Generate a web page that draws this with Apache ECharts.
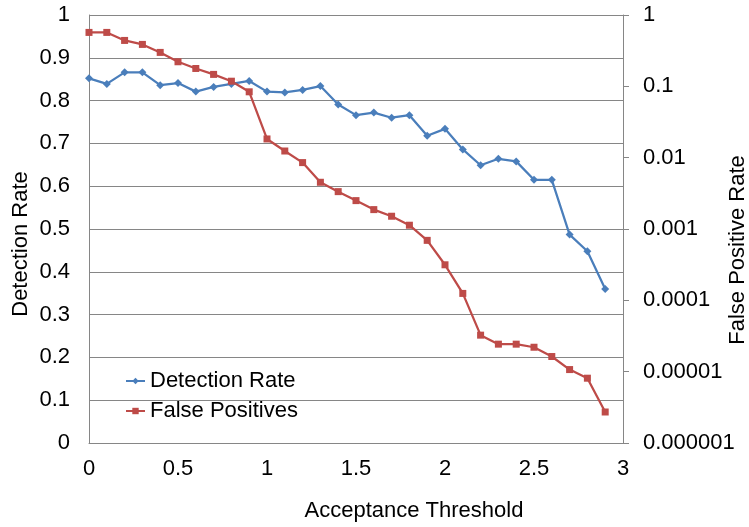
<!DOCTYPE html>
<html>
<head>
<meta charset="utf-8">
<script src="https://cdn.jsdelivr.net/npm/echarts@6/dist/echarts.min.js"></script>
<style>
html,body{margin:0;padding:0;background:#fff;}
#chart{width:749px;height:527px;}
</style>
</head>
<body>
<div id="chart"></div>
<script>
const thresholds = [0,0.1,0.2,0.3,0.4,0.5,0.6,0.7,0.8,0.9,1.0,1.1,1.2,1.3,1.4,1.5,1.6,1.7,1.8,1.9,2.0,2.1,2.2,2.3,2.4,2.5,2.6,2.7,2.8,2.9];
const detectionRate = [0.852,0.839,0.866,0.866,0.836,0.841,0.821,0.832,0.839,0.846,0.821,0.819,0.825,0.834,0.791,0.766,0.772,0.760,0.766,0.718,0.734,0.686,0.649,0.664,0.658,0.615,0.615,0.487,0.448,0.360];
const falsePositives = [0.570,0.570,0.440,0.387,0.299,0.221,0.178,0.147,0.118,0.0838,0.0183,0.0124,0.00853,0.00452,0.00334,0.00250,0.00187,0.00151,0.00113,0.000693,0.000315,0.000125,0.0000325,0.0000243,0.0000243,0.0000220,0.0000163,0.0000107,0.0000081,0.00000272];
const seriesNames = ['Detection Rate','False Positives'];
const xAxisTitle = 'Acceptance Threshold';
const leftAxisTitle = 'Detection Rate';
const rightAxisTitle = 'False Positive Rate';

const FONT = "'Liberation Sans', Arial, sans-serif";
const FS = 22;
const axisGray = '#868686';
const chart = echarts.init(document.getElementById('chart'));
chart.setOption({
  animation: false,
  textStyle: {fontFamily: FONT},
  grid: {left: 89, right: 126, top: 15, bottom: 84, containLabel: false, outerBoundsMode: 'none'},
  legend: {
    orient: 'vertical', left: 120, top: 365,
    itemWidth: 19, itemHeight: 8, itemGap: 8,
    textStyle: {fontFamily: FONT, fontSize: FS, color: '#000', lineHeight: 22},
    data: seriesNames
  },
  graphic: [{
    type: 'text', x: 21, y: 244, rotation: Math.PI / 2,
    style: {text: leftAxisTitle, fontFamily: FONT, fontSize: FS, fill: '#000', align: 'center', verticalAlign: 'middle'}
  },{
    type: 'text', x: 738, y: 250, rotation: Math.PI / 2,
    style: {text: rightAxisTitle, fontFamily: FONT, fontSize: FS, fill: '#000', align: 'center', verticalAlign: 'middle'}
  }],
  xAxis: {
    type: 'value', min: 0, max: 3, interval: 0.5,
    name: xAxisTitle, nameLocation: 'middle', nameGap: 57,
    nameTextStyle: {fontFamily: FONT, fontSize: FS, color: '#000', padding: [0,0,0,116]},
    axisLine: {show: true, lineStyle: {color: axisGray, width: 1}},
    axisTick: {show: false},
    axisLabel: {fontFamily: FONT, fontSize: FS, color: '#000', margin: 15},
    splitLine: {show: false}
  },
  yAxis: [{
    type: 'value', min: 0, max: 1, interval: 0.1,
    axisLine: {show: true, lineStyle: {color: axisGray, width: 1}},
    axisTick: {show: false},
    axisLabel: {fontFamily: FONT, fontSize: FS, color: '#000', margin: 19,
      formatter: v => String(Math.round(v*10)/10)},
    splitLine: {show: true, lineStyle: {color: axisGray, width: 1}}
  },{
    type: 'log', logBase: 10, min: 0.000001, max: 1, interval: 1, position: 'right',
    axisLine: {show: true, lineStyle: {color: axisGray, width: 1}},
    axisTick: {show: true, length: 6, lineStyle: {color: axisGray}},
    axisLabel: {fontFamily: FONT, fontSize: FS, color: '#000', margin: 20,
      formatter: v => { const e = Math.round(Math.log10(v)); return e >= 0 ? '1' : Math.pow(10, e).toFixed(-e); }},
    splitLine: {show: false}
  }],
  series: [{
    name: seriesNames[0], type: 'line', yAxisIndex: 0,
    data: thresholds.map((t,i) => [t, detectionRate[i]]),
    symbol: 'diamond', symbolSize: 8, showSymbol: true,
    lineStyle: {color: '#4A7EBB', width: 2.25},
    itemStyle: {color: '#4A7EBB'}
  },{
    name: seriesNames[1], type: 'line', yAxisIndex: 1,
    data: thresholds.map((t,i) => [t, falsePositives[i]]),
    symbol: 'rect', symbolSize: 7, showSymbol: true,
    lineStyle: {color: '#BE4B48', width: 2.25},
    itemStyle: {color: '#BE4B48'}
  }]
});
</script>
</body>
</html>
